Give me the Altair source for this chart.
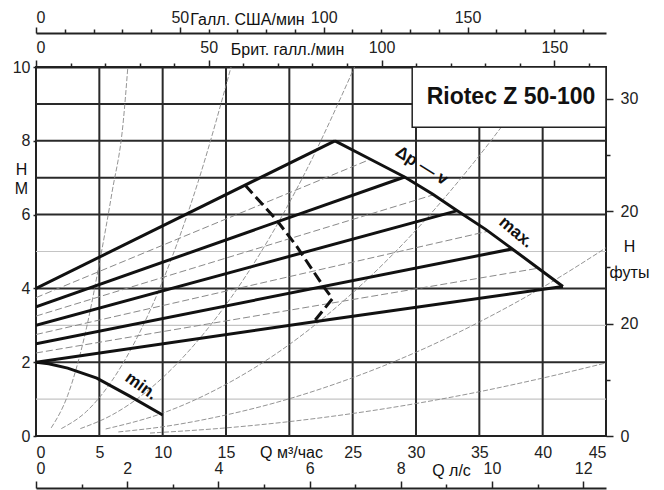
import altair as alt
import pandas as pd

# ---------------- data (Q in m3/h, H in m) ----------------
Q_MAX, H_MAX = 45, 10
M3H_PER_USGPM = 0.2271247
M3H_PER_UKGPM = 0.2727655
M3H_PER_LS = 3.6
M_PER_FT = 0.3048

# thick delta-p-v lines
dpv8_q = [0, 23.6];        dpv8_h = [4.0, 8.0]
dpv7_q = [0, 29.1];        dpv7_h = [3.5, 7.02]
dpv6_q = [0, 33.2];        dpv6_h = [3.0, 6.1]
dpv5_q = [0, 37.6];        dpv5_h = [2.5, 5.07]
dpv4_q = [0, 23.2, 41.6];  dpv4_h = [2.0, 3.16, 4.05]

# max curve and min curve
max_q = [23.6, 26.4, 29.1, 31.3, 33.2, 35.5, 37.6, 39.6, 41.6]
max_h = [8.0, 7.5, 7.02, 6.56, 6.12, 5.6, 5.07, 4.56, 4.05]
min_q = [0, 1.0, 2.5, 4.8, 7.4, 10]
min_h = [2.0, 1.96, 1.84, 1.57, 1.08, 0.57]

# thin dashed intermediate delta-p-v lines
d75_q = [0, 26.4]; d75_h = [3.75, 7.5]
d65_q = [0, 31.5]; d65_h = [3.25, 6.55]
d55_q = [0, 35.7]; d55_h = [2.75, 5.55]
d45_q = [0, 39.7]; d45_h = [2.25, 4.55]

# thick dashed limit line
lim_q = [16.5, 19.0, 20.6, 22.7, 23.4, 21.9]
lim_h = [6.8, 5.85, 5.13, 4.05, 3.72, 3.08]

# thin system curves
s1_q = [1.2, 2.5, 4.0, 5.05, 6.0, 6.9, 7.25]
s1_h = [0.22, 1.1, 2.95, 4.77, 6.6, 8.56, 10.0]
s2_q = [2.0, 4.0, 6.0, 8.0, 10.0, 12.9, 15.4]
s2_h = [0.2, 0.67, 1.5, 2.68, 4.2, 7.0, 10.0]
s3_q = [3.5, 6, 9, 12, 15, 18, 21.4, 25.15]
s3_h = [0.2, 0.57, 1.28, 2.28, 3.56, 5.12, 7.24, 10.0]
s4_q = [5.5, 10, 15, 20, 25, 30, 35, 40.2]
s4_h = [0.19, 0.62, 1.4, 2.48, 3.88, 5.58, 7.6, 10.0]
s5_q = [6.5, 10, 15, 20, 25, 30, 35, 40, 45]
s5_h = [0.11, 0.25, 0.57, 1.01, 1.58, 2.27, 3.09, 4.03, 5.1]
s6_q = [9, 15, 20, 25, 30, 35, 40, 45]
s6_h = [0.08, 0.22, 0.39, 0.61, 0.88, 1.2, 1.57, 1.98]

# grid
grid_q = [5, 10, 15, 20, 25, 30, 35, 40]
grid_h_dark = [2, 4, 6, 7, 8, 9]
grid_h_light = [1, 3, 5]

# axes tick values
m3h_ticks = [0, 5, 10, 15, 25, 30, 35, 40, 45]
m_ticks = [0, 2, 4, 6, 8, 10]
usg_major = [0, 50, 100, 150]
usg_minor = [10, 20, 30, 40, 60, 70, 80, 90, 110, 120, 130, 140, 160, 170, 180, 190]
ukg_major = [0, 50, 100, 150]
ukg_minor = [10, 20, 30, 40, 60, 70, 80, 90, 110, 120, 130, 140, 160]
ls_major = [0, 2, 4, 6, 8, 10, 12]
ls_minor = [1, 3, 5, 7, 9, 11]
ft_major = [0, 10, 20, 30]
ft_minor = [5, 15, 25]

# legend box and labels
box_q = [29.7, 45]
box_h = [8.37, 10]
title_txt = "Riotec Z 50-100"
title_pos = [37.5, 9.19]
ann_txt = ["Δp — v", "max.", "min."]
ann_q = [30.45, 37.9, 8.3]
ann_h = [7.32, 5.52, 1.35]
ann_angle = [32, 40, 36]

FONT = "Liberation Sans"


def curve_df(curves):
    rows = []
    for name, qs_, hs_ in curves:
        for i, (q, h) in enumerate(zip(qs_, hs_)):
            rows.append({"curve": name, "i": i, "q": q, "h": h})
    return pd.DataFrame(rows)


def qscale():
    return alt.Scale(domain=[0, Q_MAX], nice=False, zero=False)


def hscale():
    return alt.Scale(domain=[0, H_MAX], nice=False, zero=False)


def X(axis=None):
    return alt.X("q:Q", scale=qscale(), axis=axis)


def Y(axis=None):
    return alt.Y("h:Q", scale=hscale(), axis=axis)


main_x_axis = alt.Axis(values=m3h_ticks, orient="bottom", tickSize=0, domain=False,
                       grid=False, labelPadding=8, title="Q м³/час", titleX=255,
                       titleY=16, titleAlign="center", titleBaseline="middle")
main_y_axis = alt.Axis(values=m_ticks, orient="left", tickSize=3, domain=False,
                       grid=False, labelPadding=3, title=["Н", "М"], titleAngle=0,
                       titleX=-15, titleY=102, titleAlign="center",
                       titleBaseline="middle", titleLineHeight=19)

grid_v = alt.Chart(pd.DataFrame({"q": grid_q})).mark_rule(
    color="#2a2a2a", strokeWidth=2).encode(x=X(main_x_axis))
grid_hd = alt.Chart(pd.DataFrame({"h": grid_h_dark})).mark_rule(
    color="#2a2a2a", strokeWidth=2).encode(y=Y(main_y_axis))
grid_hl = alt.Chart(pd.DataFrame({"h": grid_h_light})).mark_rule(
    color="#c4c4c4", strokeWidth=1.2).encode(y=Y())

sys_df = curve_df([("s1", s1_q, s1_h), ("s2", s2_q, s2_h), ("s3", s3_q, s3_h),
                   ("s4", s4_q, s4_h), ("s5", s5_q, s5_h), ("s6", s6_q, s6_h)])
sys_l = alt.Chart(sys_df).mark_line(color="#888888", strokeWidth=0.9, strokeDash=[5, 2],
                                    interpolate="monotone", clip=True).encode(
    x=X(), y=Y(), detail="curve:N", order="i:Q")

thin_df = curve_df([("d75", d75_q, d75_h), ("d65", d65_q, d65_h),
                    ("d55", d55_q, d55_h), ("d45", d45_q, d45_h)])
thin_l = alt.Chart(thin_df).mark_line(color="#8a8a8a", strokeWidth=1, strokeDash=[7, 3],
                                      clip=True).encode(
    x=X(), y=Y(), detail="curve:N", order="i:Q")

thick_df = curve_df([("l8", dpv8_q, dpv8_h), ("l7", dpv7_q, dpv7_h), ("l6", dpv6_q, dpv6_h),
                     ("l5", dpv5_q, dpv5_h), ("l4", dpv4_q, dpv4_h),
                     ("max", max_q, max_h), ("min", min_q, min_h)])
thick_l = alt.Chart(thick_df).mark_line(color="#111", strokeWidth=3, strokeJoin="miter",
                                        clip=True).encode(
    x=X(), y=Y(), detail="curve:N", order="i:Q")

lim_df = curve_df([("lim", lim_q, lim_h)])
lim_l = alt.Chart(lim_df).mark_line(color="#111", strokeWidth=3, strokeDash=[11, 5],
                                    strokeJoin="miter").encode(
    x=X(), y=Y(), detail="curve:N", order="i:Q")

box = alt.Chart(pd.DataFrame({"q": [box_q[0]], "q2": [box_q[1]],
                              "h": [box_h[0]], "h2": [box_h[1]]})).mark_rect(
    fill="white", stroke="#222", strokeWidth=1.5).encode(
    x=X(), x2="q2:Q", y=Y(), y2="h2:Q")

title_t = alt.Chart(pd.DataFrame({"q": [title_pos[0]], "h": [title_pos[1]],
                                  "t": [title_txt]})).mark_text(
    font=FONT, fontSize=23, fontWeight="bold", color="#111").encode(
    x=X(), y=Y(), text="t:N")

ann_layers = []
for t, q, h, a in zip(ann_txt, ann_q, ann_h, ann_angle):
    ann_layers.append(alt.Chart(pd.DataFrame({"q": [q], "h": [h], "t": [t]})).mark_text(
        font=FONT, fontSize=17, fontWeight="bold", angle=a, color="#111").encode(
        x=X(), y=Y(), text="t:N"))


def x_axis_layer(values, dmax, axis):
    return alt.Chart(pd.DataFrame({"v": values})).mark_point(opacity=0).encode(
        x=alt.X("v:Q", scale=alt.Scale(domain=[0, dmax], nice=False, zero=False), axis=axis))


def y_axis_layer(values, dmax, axis):
    return alt.Chart(pd.DataFrame({"v": values})).mark_point(opacity=0).encode(
        y=alt.Y("v:Q", scale=alt.Scale(domain=[0, dmax], nice=False, zero=False), axis=axis))


usg_max = Q_MAX / M3H_PER_USGPM
ukg_max = Q_MAX / M3H_PER_UKGPM
ls_max = Q_MAX / M3H_PER_LS
ft_max = H_MAX / M_PER_FT

us_major = x_axis_layer(usg_major, usg_max, alt.Axis(
    orient="top", offset=34, values=usg_major, tickSize=6, labelPadding=2, grid=False,
    title="Галл. США/мин", titleX=211, titleY=-14, titleAlign="center",
    titleBaseline="middle"))
us_minor = x_axis_layer(usg_minor, usg_max, alt.Axis(
    orient="top", offset=34, values=usg_minor, tickSize=4, labels=False, domain=False,
    grid=False, title=None))
uk_major = x_axis_layer(ukg_major, ukg_max, alt.Axis(
    orient="top", offset=0, values=ukg_major, tickSize=7, labelPadding=5, grid=False,
    title="Брит. галл./мин", titleX=251, titleY=-18, titleAlign="center",
    titleBaseline="middle"))
uk_minor = x_axis_layer(ukg_minor, ukg_max, alt.Axis(
    orient="top", offset=0, values=ukg_minor, tickSize=4, labels=False, domain=False,
    grid=False, title=None))
ls_major_l = x_axis_layer(ls_major, ls_max, alt.Axis(
    orient="top", offset=-421, values=ls_major, tickSize=7, labelPadding=5, grid=False,
    title="Q л/с", titleX=415, titleY=-18, titleAlign="center", titleBaseline="middle"))
ls_minor_l = x_axis_layer(ls_minor, ls_max, alt.Axis(
    orient="top", offset=-421, values=ls_minor, tickSize=4, labels=False, domain=False,
    grid=False, title=None))
ft_major_l = y_axis_layer(ft_major, ft_max, alt.Axis(
    orient="right", values=ft_major, tickSize=7, labelPadding=7, grid=False, domain=False,
    labelExpr="datum.value == 10 ? '20' : datum.label",
    title=["H", "футы"], titleAngle=0, titleX=23, titleY=179, titleAlign="center",
    titleBaseline="middle", titleLineHeight=26))
ft_minor_l = y_axis_layer(ft_minor, ft_max, alt.Axis(
    orient="right", values=ft_minor, tickSize=4, labels=False, domain=False, grid=False,
    title=None))

chart = alt.layer(
    grid_hl, grid_v, grid_hd, sys_l, thin_l, thick_l, lim_l, box, title_t, *ann_layers,
    us_major, us_minor, uk_major, uk_minor, ls_major_l, ls_minor_l, ft_major_l, ft_minor_l
).resolve_scale(
    x="independent", y="independent"
).properties(
    width=570, height=369, autosize=alt.AutoSizeParams(type="none"),
    padding={"left": 28, "top": 59, "right": 50, "bottom": 54}
).configure_view(
    stroke="#222", strokeWidth=2
).configure_axis(
    labelFont=FONT, labelFontSize=16, labelColor="#222", titleFont=FONT,
    titleFontSize=16, titleFontWeight="normal", titleColor="#111", tickColor="#222",
    tickWidth=1.5, domainColor="#222", domainWidth=2
)

chart.save("out.html", embed_options={"renderer": "svg", "actions": False})
